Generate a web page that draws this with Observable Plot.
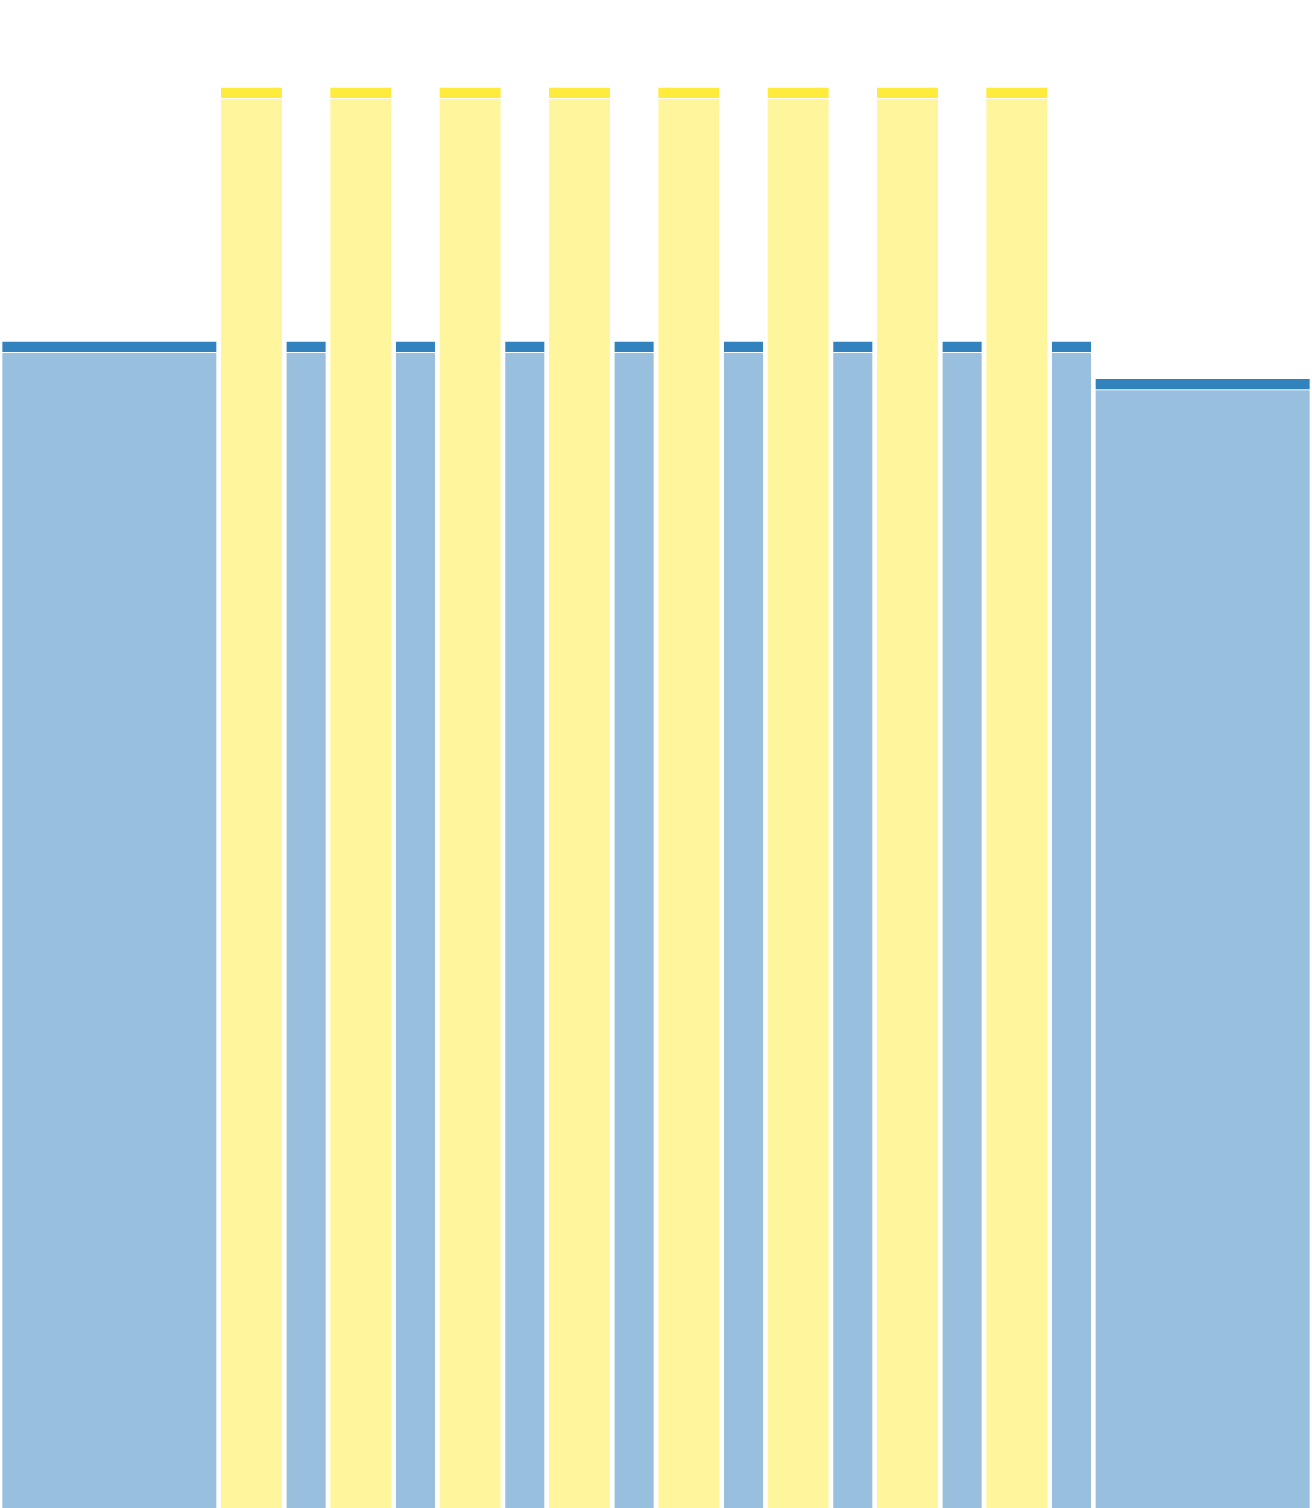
<!DOCTYPE html>
<html>
<head>
<meta charset="utf-8">
<script src="https://cdn.jsdelivr.net/npm/d3@7"></script>
<script src="https://cdn.jsdelivr.net/npm/@observablehq/plot@0.6"></script>
<style>
  html, body { margin: 0; padding: 0; background: #fff; }
  #chart svg { display: block; }
</style>
</head>
<body>
<div id="chart"></div>
<script>
// Segment boundaries (x units), kind and totals (y units)
const segStart = [0, 2, 2.6, 3, 3.6, 4, 4.6, 5, 5.6, 6, 6.6, 7, 7.6, 8, 8.6, 9, 9.6, 10];
const segEnd   = [2, 2.6, 3, 3.6, 4, 4.6, 5, 5.6, 6, 6.6, 7, 7.6, 8, 8.6, 9, 9.6, 10, 12];
const segKind  = ["cool", "warm", "cool", "warm", "cool", "warm", "cool", "warm", "cool",
                  "warm", "cool", "warm", "cool", "warm", "cool", "warm", "cool", "cool"];
const segTotal = [103.3, 125.8, 103.3, 125.8, 103.3, 125.8, 103.3, 125.8, 103.3,
                  125.8, 103.3, 125.8, 103.3, 125.8, 103.3, 125.8, 103.3, 100.0];
const capSize  = [1.0, 1.0, 1.0, 1.0, 1.0, 1.0, 1.0, 1.0, 1.0,
                  1.0, 1.0, 1.0, 1.0, 1.0, 1.0, 1.0, 1.0, 1.0];
const kinds = ["cool", "warm"];
const kindColors = ["#3182bd", "#ffeb3b"];

const segs = segStart.map((s, i) => ({
  x1: s, x2: segEnd[i], kind: segKind[i],
  body: segTotal[i] - capSize[i], total: segTotal[i]
}));

const chart = Plot.plot({
  width: 1312,
  height: 1508,
  margin: 0,
  x: {domain: [0, 12], axis: null},
  y: {domain: [0, 133.57], axis: null},
  color: {type: "ordinal", domain: kinds, range: kindColors},
  marks: [
    Plot.rect(segs, {
      x1: "x1", x2: "x2", y1: 0, y2: "body",
      fill: "kind", fillOpacity: 0.5,
      insetLeft: 2.35, insetRight: 2.35
    }),
    Plot.rect(segs, {
      x1: "x1", x2: "x2", y1: "body", y2: "total",
      fill: "kind",
      insetLeft: 2.35, insetRight: 2.35, insetBottom: 1
    })
  ]
});
document.getElementById("chart").appendChild(chart);
</script>
</body>
</html>
